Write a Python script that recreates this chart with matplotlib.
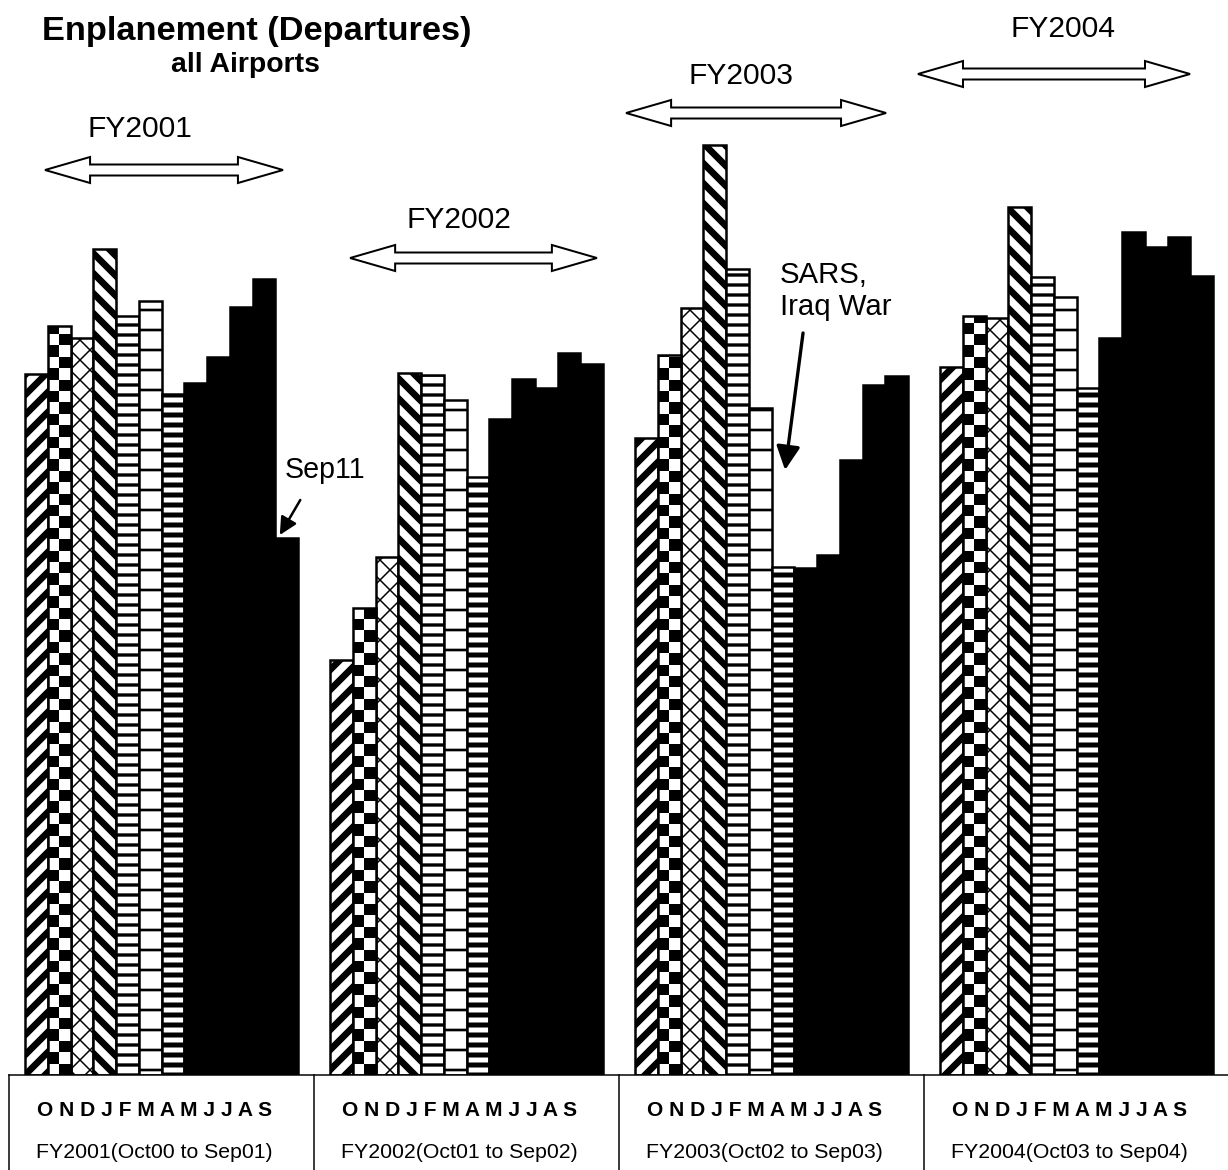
"""Enplanement (departures) at all airports, FY2001-FY2004, monthly bars
with a pattern per month, in the style of an old scanned report chart."""

import numpy as np
import matplotlib
matplotlib.use("Agg")
import matplotlib.pyplot as plt
from matplotlib.patches import Polygon

# --- data (bar heights, arbitrary units) ---
MONTHS = ["O", "N", "D", "J", "F", "M", "A", "M", "J", "J", "A", "S"]
FISCAL_YEARS = ["FY2001", "FY2002", "FY2003", "FY2004"]
FY_RANGES = ["FY2001(Oct00 to Sep01)", "FY2002(Oct01 to Sep02)",
             "FY2003(Oct02 to Sep03)", "FY2004(Oct03 to Sep04)"]
fy2001 = [701, 749, 737, 826, 759, 774, 681, 692, 718, 768, 796, 537]
fy2002 = [415, 467, 518, 702, 700, 675, 598, 656, 696, 687, 722, 711]
fy2003 = [637, 720, 767, 930, 806, 667, 508, 507, 520, 615, 690, 699]
fy2004 = [708, 759, 757, 868, 798, 778, 687, 737, 843, 828, 838, 799]

# --- layout ---
DPI = 240
W_PX, H_PX = 1228, 1170
BAR_W = 1.0
GAP = 1.41
STRIDE = len(MONTHS) * BAR_W + GAP
CHECK = 11.4          # checkerboard square height (value units == px)
YTOP = 1075           # axes top in value units
EDGE_LW = 0.75
BSLASH = chr(92)

# (hatch, hatch linewidth in pt) per month; None -> solid black
# diagonal hatches repeat every 2/n of the 240px hatch cell, so 4 chars -> 20px
MONTH_STYLE = [("////", 2.0), ("check", 0), ("xxxx", 0.45), (BSLASH * 4, 2.0),
               ("----", 1.0), ("--", 0.8), ("----", 1.5)] + [(None, 0)] * 5

plt.rcParams["font.family"] = ["Liberation Sans", "DejaVu Sans"]


def draw_bar(ax, x, h, style):
    hatch, hlw = style
    if hatch is None:
        ax.bar(x, h, width=BAR_W, align="edge", color="black",
               edgecolor="black", linewidth=EDGE_LW)
        return
    if hatch == "check":
        bar = ax.bar(x, h, width=BAR_W, align="edge", facecolor="none",
                     edgecolor="black", linewidth=EDGE_LW, zorder=3)[0]
        nrows = int(np.ceil(h / CHECK))
        board = np.indices((nrows, 2)).sum(axis=0) % 2
        im = ax.imshow(board, cmap="gray_r", vmin=0, vmax=1, origin="lower",
                       extent=(x, x + BAR_W, 0, nrows * CHECK),
                       interpolation="nearest", aspect="auto", zorder=2)
        im.set_clip_path(bar)
        return
    with plt.rc_context({"hatch.linewidth": hlw}):
        bar = ax.bar(x, h, width=BAR_W, align="edge", facecolor="white",
                     edgecolor="black", linewidth=EDGE_LW, hatch=hatch)[0]
    if hasattr(bar, "set_hatch_linewidth"):
        bar.set_hatch_linewidth(hlw)


def double_arrow(ax, x0, x1, y, head_len=1.98, head_h=13, shaft_h=5.5):
    pts = [(x0, y), (x0 + head_len, y + head_h), (x0 + head_len, y + shaft_h),
           (x1 - head_len, y + shaft_h), (x1 - head_len, y + head_h), (x1, y),
           (x1 - head_len, y - head_h), (x1 - head_len, y - shaft_h),
           (x0 + head_len, y - shaft_h), (x0 + head_len, y - head_h)]
    ax.add_patch(Polygon(pts, closed=True, facecolor="white", edgecolor="black",
                         linewidth=0.6, clip_on=False, zorder=4))


def main():
    fig = plt.figure(figsize=(W_PX / DPI, H_PX / DPI), dpi=DPI)
    bottom = (H_PX - YTOP) / H_PX
    ax = fig.add_axes([0, bottom, 1, 1 - bottom])

    years = [fy2001, fy2002, fy2003, fy2004]
    for g, vals in enumerate(years):
        for i, v in enumerate(vals):
            draw_bar(ax, g * STRIDE + i * BAR_W, v, MONTH_STYLE[i])

    x_left = -25 / 22.75
    x_right = x_left + W_PX / 22.75
    ax.set_xlim(x_left, x_right)
    ax.set_ylim(0, YTOP)
    ax.axis("off")

    # table under the bars
    line_kw = dict(color="black", linewidth=0.45, clip_on=False)
    ax.plot([-GAP / 2, x_right], [0, 0], **line_kw)
    for g in range(len(years)):
        xs = g * STRIDE - GAP / 2
        ax.plot([xs, xs], [0, -95], **line_kw)
        cx = g * STRIDE + 6 * BAR_W - 0.3
        ax.text(cx, -41, " ".join(MONTHS), ha="center", va="baseline",
                fontsize=6.3, fontweight="bold")
        ax.text(cx, -83, FY_RANGES[g], ha="center", va="baseline", fontsize=6.4)

    # titles
    ax.text(10.18, 1035, "Enplanement (Departures)", ha="center",
            va="baseline", fontsize=10.3, fontweight="bold")
    ax.text(9.71, 1003, "all Airports", ha="center", va="baseline",
            fontsize=8.5, fontweight="bold")

    # fiscal-year spans
    fy_label_pos = [(5.05, 938), (19.08, 847), (31.47, 991), (45.63, 1038)]
    fy_arrows = [(0.88, 11.34, 905), (14.29, 25.14, 817),
                 (26.42, 37.85, 962), (39.25, 51.21, 1001)]
    for name, (lx, ly), (a0, a1, ay) in zip(FISCAL_YEARS, fy_label_pos, fy_arrows):
        ax.text(lx, ly, name, ha="center", va="baseline", fontsize=9)
        double_arrow(ax, a0, a1, ay)

    # event notes
    ax.text(11.43, 597, "Sep11", ha="left", va="baseline", fontsize=8.6)
    ax.annotate("", xy=(11.2, 540), xytext=(12.1, 575),
                arrowprops=dict(arrowstyle="-|>", color="black", lw=0.75,
                                mutation_scale=11, shrinkA=0, shrinkB=0))
    ax.text(33.19, 792, "SARS,", ha="left", va="baseline", fontsize=8.8)
    ax.text(33.19, 760, "Iraq War", ha="left", va="baseline", fontsize=8.8)
    ax.annotate("", xy=(33.41, 605), xytext=(34.2, 742),
                arrowprops=dict(arrowstyle="-|>", color="black", lw=1.0,
                                mutation_scale=15, shrinkA=0, shrinkB=0))

    fig.savefig("out.png", dpi=DPI)


if __name__ == "__main__":
    main()
